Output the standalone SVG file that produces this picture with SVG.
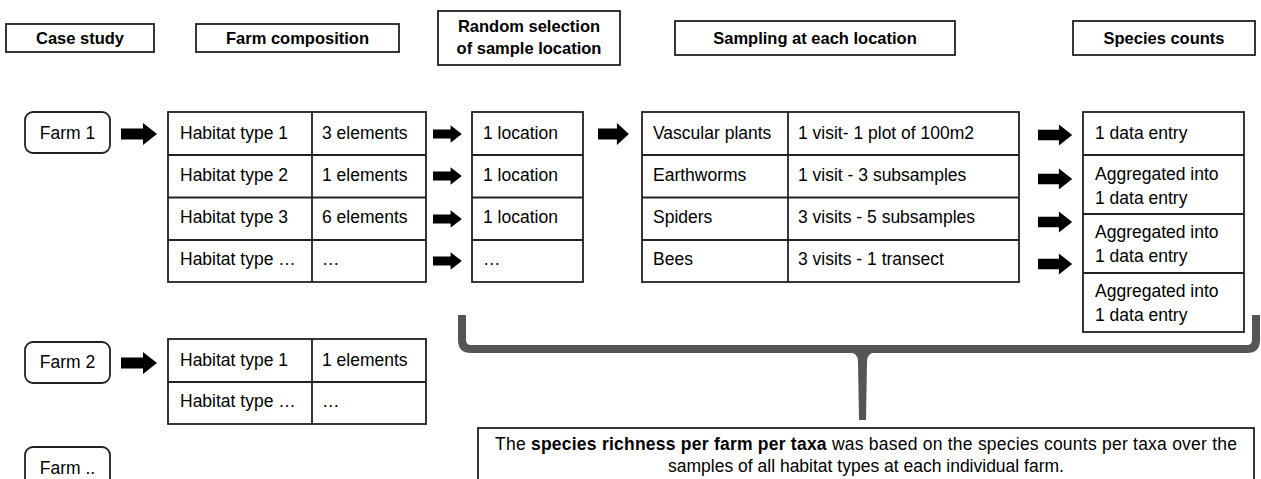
<svg xmlns="http://www.w3.org/2000/svg" width="1261" height="479" viewBox="0 0 1261 479">
<style>
.box{fill:#fff;stroke:#222;stroke-width:1.8}
.ln{stroke:#222;stroke-width:1.8}
.hd{font-family:"Liberation Sans",Arial,sans-serif;font-size:16.5px;font-weight:bold;fill:#000;text-anchor:middle}
.t{font-family:"Liberation Sans",Arial,sans-serif;font-size:17.5px;fill:#000}
.c{text-anchor:middle}
.arrow{fill:#000}
.brace{fill:none;stroke:#555;stroke-width:8}
</style>
<defs>
<polygon id="arr" points="0,-5.5 22,-5.5 22,-11 36,0 22,11 22,5.5 0,5.5"/>
</defs>

<g id="headers">
<g id="h-case"><rect class="box" x="6" y="24" width="148" height="28"/><text class="hd" x="80" y="44">Case study</text></g>
<g id="h-farm"><rect class="box" x="196" y="24" width="203" height="28"/><text class="hd" x="297.5" y="44">Farm composition</text></g>
<g id="h-random"><rect class="box" x="438" y="11" width="182" height="54"/><text class="hd" x="529" y="32">Random selection</text><text class="hd" x="529" y="54">of sample location</text></g>
<g id="h-sampling"><rect class="box" x="675" y="21" width="280" height="34"/><text class="hd" x="815" y="44">Sampling at each location</text></g>
<g id="h-species"><rect class="box" x="1073" y="21" width="182" height="34"/><text class="hd" x="1164" y="44">Species counts</text></g>
</g>

<g id="farm1"><rect class="box" x="25" y="112" width="85" height="41" rx="8"/><text class="t c" x="67.5" y="139">Farm 1</text></g>
<g id="farm2"><rect class="box" x="25" y="342" width="85" height="41" rx="8"/><text class="t c" x="67.5" y="368">Farm 2</text></g>
<g id="farm3"><rect class="box" x="25" y="447" width="85" height="41" rx="8"/><text class="t c" x="67.5" y="474">Farm ..</text></g>

<g id="comp1">
<rect class="box" x="168" y="112" width="258" height="170"/>
<line class="ln" x1="168" y1="155" x2="426" y2="155"/>
<line class="ln" x1="168" y1="197.5" x2="426" y2="197.5"/>
<line class="ln" x1="168" y1="240" x2="426" y2="240"/>
<line class="ln" x1="312" y1="112" x2="312" y2="282"/>
<text class="t" x="180" y="139">Habitat type 1</text><text class="t" x="322" y="139">3 elements</text>
<text class="t" x="180" y="181">Habitat type 2</text><text class="t" x="322" y="181">1 elements</text>
<text class="t" x="180" y="223">Habitat type 3</text><text class="t" x="322" y="223">6 elements</text>
<text class="t" x="180" y="265">Habitat type …</text><text class="t" x="322" y="265">…</text>
</g>

<g id="comp2">
<rect class="box" x="168" y="339" width="258" height="85"/>
<line class="ln" x1="168" y1="382" x2="426" y2="382"/>
<line class="ln" x1="312" y1="339" x2="312" y2="424"/>
<text class="t" x="180" y="366">Habitat type 1</text><text class="t" x="322" y="366">1 elements</text>
<text class="t" x="180" y="407">Habitat type …</text><text class="t" x="322" y="407">…</text>
</g>

<g id="locations">
<rect class="box" x="472" y="112" width="111" height="170"/>
<line class="ln" x1="472" y1="155" x2="583" y2="155"/>
<line class="ln" x1="472" y1="197.5" x2="583" y2="197.5"/>
<line class="ln" x1="472" y1="240" x2="583" y2="240"/>
<text class="t" x="483" y="139">1 location</text>
<text class="t" x="483" y="181">1 location</text>
<text class="t" x="483" y="223">1 location</text>
<text class="t" x="483" y="265">…</text>
</g>

<g id="sampling">
<rect class="box" x="642" y="112" width="377" height="170"/>
<line class="ln" x1="642" y1="155" x2="1019" y2="155"/>
<line class="ln" x1="642" y1="197.5" x2="1019" y2="197.5"/>
<line class="ln" x1="642" y1="240" x2="1019" y2="240"/>
<line class="ln" x1="788" y1="112" x2="788" y2="282"/>
<text class="t" x="653" y="139">Vascular plants</text><text class="t" x="798" y="139">1 visit- 1 plot of 100m2</text>
<text class="t" x="653" y="181">Earthworms</text><text class="t" x="798" y="181">1 visit - 3 subsamples</text>
<text class="t" x="653" y="223">Spiders</text><text class="t" x="798" y="223">3 visits - 5 subsamples</text>
<text class="t" x="653" y="265">Bees</text><text class="t" x="798" y="265">3 visits - 1 transect</text>
</g>

<g id="species">
<rect class="box" x="1083" y="112" width="161" height="220"/>
<line class="ln" x1="1083" y1="155" x2="1244" y2="155"/>
<line class="ln" x1="1083" y1="214" x2="1244" y2="214"/>
<line class="ln" x1="1083" y1="273" x2="1244" y2="273"/>
<text class="t" x="1095" y="139">1 data entry</text>
<text class="t" x="1095" y="180">Aggregated into</text><text class="t" x="1095" y="204">1 data entry</text>
<text class="t" x="1095" y="238">Aggregated into</text><text class="t" x="1095" y="262">1 data entry</text>
<text class="t" x="1095" y="297">Aggregated into</text><text class="t" x="1095" y="321">1 data entry</text>
</g>

<g id="connectors">
<use href="#arr" class="arrow" transform="translate(121,134)"/>
<use href="#arr" class="arrow" transform="translate(121,363)"/>
<use href="#arr" class="arrow" transform="translate(433,134) scale(0.8)"/>
<use href="#arr" class="arrow" transform="translate(433,176) scale(0.8)"/>
<use href="#arr" class="arrow" transform="translate(433,219) scale(0.8)"/>
<use href="#arr" class="arrow" transform="translate(433,261) scale(0.8)"/>
<use href="#arr" class="arrow" transform="translate(598,134) scale(0.86,1)"/>
<use href="#arr" class="arrow" transform="translate(1038,135) scale(0.95,0.95)"/>
<use href="#arr" class="arrow" transform="translate(1038,179) scale(0.95,0.95)"/>
<use href="#arr" class="arrow" transform="translate(1038,222) scale(0.95,0.95)"/>
<use href="#arr" class="arrow" transform="translate(1038,264) scale(0.95,0.95)"/>
<path class="brace" d="M462 315 V340 Q462 349 471 349 H1247 Q1256 349 1256 340 V315"/>
<path fill="#555" d="M848 352 Q858 352 858 362 L859 420 L866 420 L867 362 Q867 352 877 352 Z"/>
</g>

<g id="summary">
<rect class="box" x="478" y="428" width="776" height="70"/>
<text class="t c" x="866" y="450" textLength="742" lengthAdjust="spacing">The <tspan font-weight="bold">species richness per farm per taxa</tspan> was based on the species counts per taxa over the</text>
<text class="t c" x="866" y="472">samples of all habitat types at each individual farm.</text>
</g>
</svg>
